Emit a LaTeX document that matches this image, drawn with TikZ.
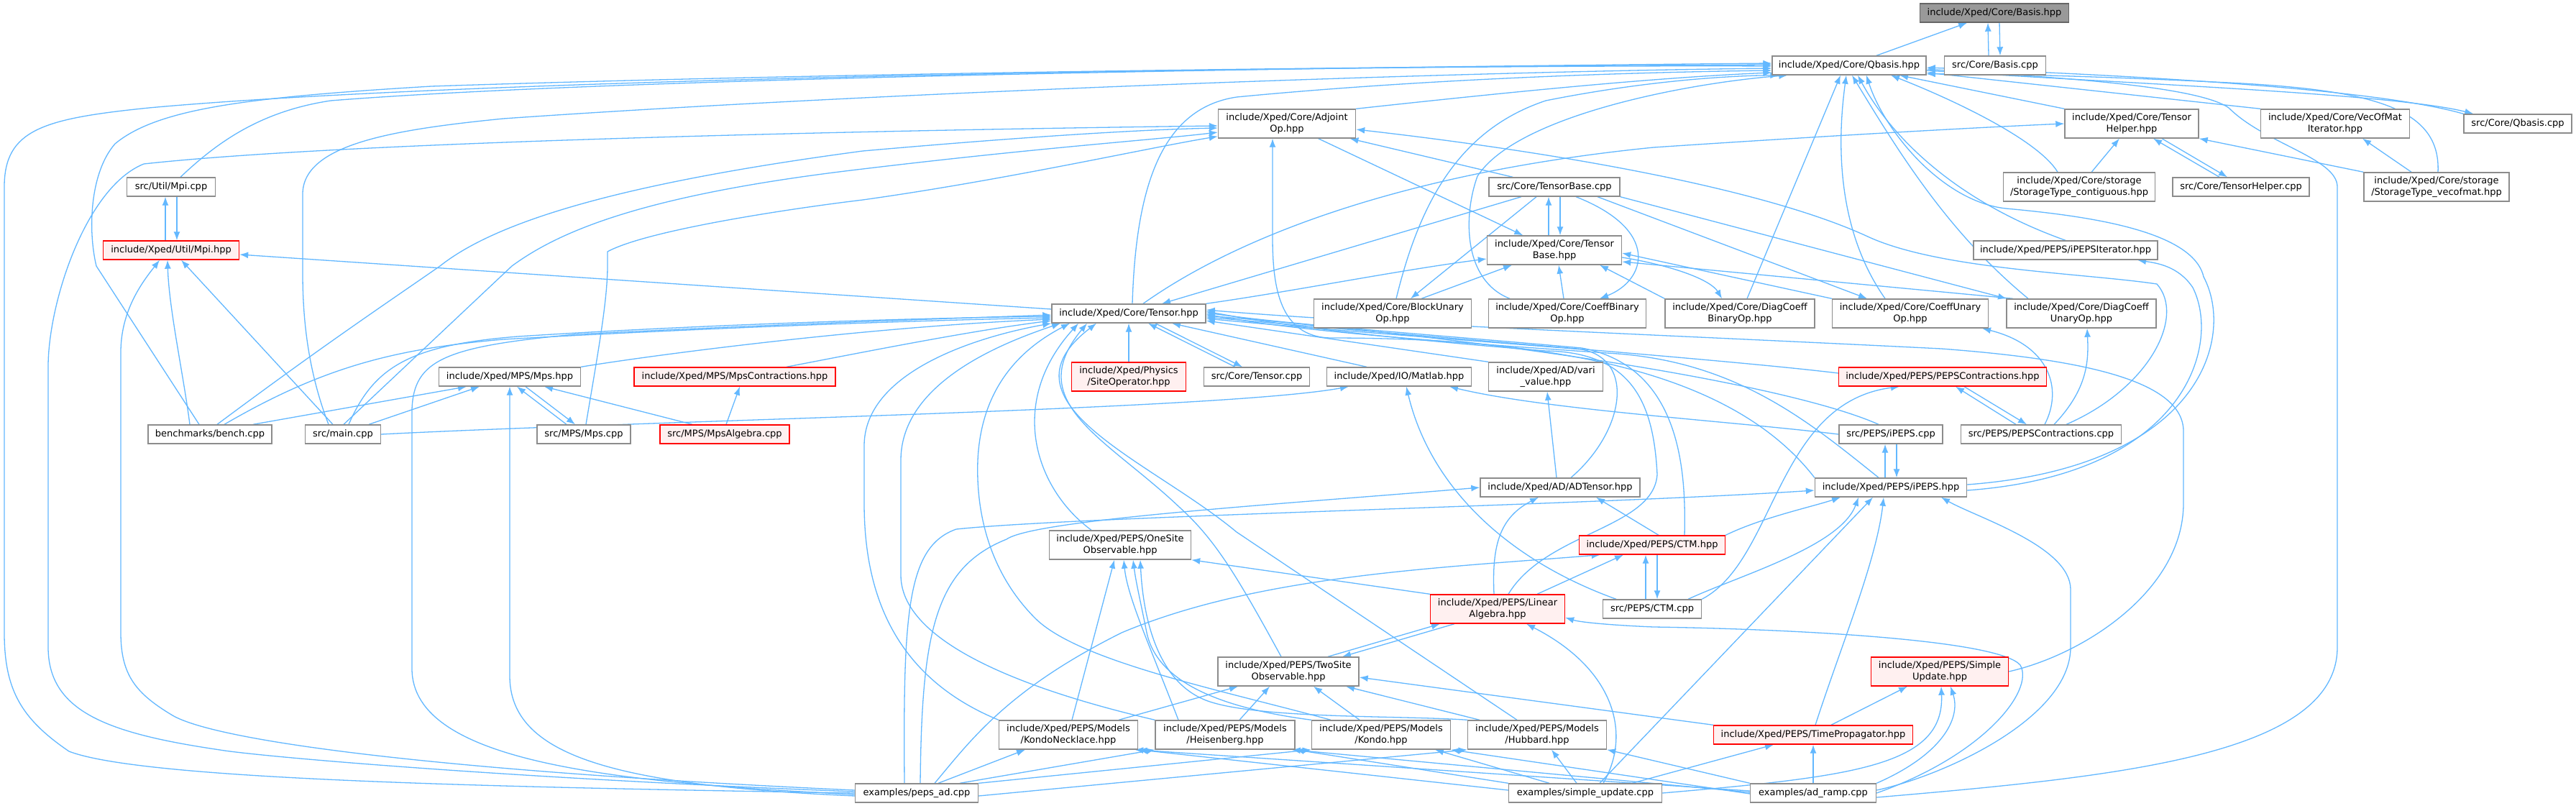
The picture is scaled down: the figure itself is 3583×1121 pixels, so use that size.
\documentclass[tikz,border=0pt]{standalone}
\usepackage{fontspec}
\setmainfont{DejaVu Sans}
\usetikzlibrary{arrows.meta,backgrounds}
\definecolor{eblue}{HTML}{63B8FF}
\definecolor{ndgray}{HTML}{8C8C8C}
\definecolor{rootfill}{HTML}{999999}
\definecolor{rootdraw}{HTML}{666666}
\definecolor{redfill}{HTML}{FFF0F0}
\begin{document}
\begin{tikzpicture}[x=1pt,y=-1pt,
  nd/.style={draw=ndgray, line width=1.4pt, fill=white, inner sep=0pt, align=center, font=\fontsize{13}{16}\selectfont},
  one/.style={minimum height=26pt},
  two/.style={minimum height=40pt},
  rd/.style={nd, draw=red, fill=redfill},
  root/.style={nd, draw=rootdraw, fill=rootfill},
  e/.style={draw=eblue, line width=1.3pt, -{Latex[length=12pt,width=9pt]}}]
\useasboundingbox (0,0) rectangle (3583,1121);
% nodes
\node[root,one,minimum width=207pt] (basis) at (2774,18) {include/Xped/Core/Basis.hpp};
\node[nd,one,minimum width=214pt] (qbasis) at (2572,91) {include/Xped/Core/Qbasis.hpp};
\node[nd,one,minimum width=141pt] (basiscpp) at (2775,91) {src/Core/Basis.cpp};
\node[nd,two,minimum width=191pt] (adj) at (1790,172) {include/Xped/Core/Adjoint\\Op.hpp};
\node[nd,two,minimum width=186pt] (thelp) at (2965,172) {include/Xped/Core/Tensor\\Helper.hpp};
\node[nd,two,minimum width=207pt] (vecofmat) at (3248,172) {include/Xped/Core/VecOfMat\\Iterator.hpp};
\node[nd,one,minimum width=150pt] (qbcpp) at (3502,172) {src/Core/Qbasis.cpp};
\node[nd,two,minimum width=211pt] (contig) at (2892,260) {include/Xped/Core/storage\\/StorageType\_contiguous.hpp};
\node[nd,one,minimum width=190pt] (thcpp) at (3117,260) {src/Core/TensorHelper.cpp};
\node[nd,two,minimum width=202pt] (vecmat) at (3389,260) {include/Xped/Core/storage\\/StorageType\_vecofmat.hpp};
\node[nd,one,minimum width=256pt] (ipit) at (2873,348) {include/Xped/PEPS/iPEPSIterator.hpp};
\node[nd,one,minimum width=123pt] (mpicpp) at (238,260) {src/Util/Mpi.cpp};
\node[rd,one,minimum width=189pt] (mpi) at (238,348) {include/Xped/Util/Mpi.hpp};
\node[nd,one,minimum width=182pt] (tbcpp) at (2162,260) {src/Core/TensorBase.cpp};
\node[nd,two,minimum width=187pt] (tb) at (2162,348) {include/Xped/Core/Tensor\\Base.hpp};
\node[nd,one,minimum width=214pt] (tensor) at (1570,436) {include/Xped/Core/Tensor.hpp};
\node[nd,two,minimum width=219pt] (blockun) at (1937,436) {include/Xped/Core/BlockUnary\\Op.hpp};
\node[nd,two,minimum width=219pt] (coeffbin) at (2180,436) {include/Xped/Core/CoeffBinary\\Op.hpp};
\node[nd,two,minimum width=208pt] (diagbin) at (2420,436) {include/Xped/Core/DiagCoeff\\BinaryOp.hpp};
\node[nd,two,minimum width=217pt] (coeffun) at (2657,436) {include/Xped/Core/CoeffUnary\\Op.hpp};
\node[nd,two,minimum width=208pt] (diagun) at (2895,436) {include/Xped/Core/DiagCoeff\\UnaryOp.hpp};
\node[rd,two,minimum width=159pt] (siteop) at (1570,524) {include/Xped/Physics\\/SiteOperator.hpp};
\node[nd,one,minimum width=147pt] (tcpp) at (1748,524) {src/Core/Tensor.cpp};
\node[nd,one,minimum width=201pt] (matlab) at (1946,524) {include/Xped/IO/Matlab.hpp};
\node[nd,two,minimum width=159pt] (vari) at (2150,524) {include/Xped/AD/vari\\\_value.hpp};
\node[rd,one,minimum width=289pt] (pepscon) at (2702,524) {include/Xped/PEPS/PEPSContractions.hpp};
\node[nd,one,minimum width=197pt] (mps) at (709,524) {include/Xped/MPS/Mps.hpp};
\node[rd,one,minimum width=280pt] (mpscon) at (1022,524) {include/Xped/MPS/MpsContractions.hpp};
\node[nd,one,minimum width=172pt] (bench) at (292,604) {benchmarks/bench.cpp};
\node[nd,one,minimum width=105pt] (main) at (477,604) {src/main.cpp};
\node[nd,one,minimum width=130pt] (mpscpp) at (812,604) {src/MPS/Mps.cpp};
\node[rd,one,minimum width=180pt] (mpsalg) at (1008,604) {src/MPS/MpsAlgebra.cpp};
\node[nd,one,minimum width=144pt] (ipepscpp) at (2630,604) {src/PEPS/iPEPS.cpp};
\node[nd,one,minimum width=223pt] (pepsconcpp) at (2839,604) {src/PEPS/PEPSContractions.cpp};
\node[nd,one,minimum width=222pt] (adt) at (2170,678) {include/Xped/AD/ADTensor.hpp};
\node[nd,one,minimum width=211pt] (ipeps) at (2630,678) {include/Xped/PEPS/iPEPS.hpp};
\node[nd,two,minimum width=197pt] (onesite) at (1558,758) {include/Xped/PEPS/OneSite\\Observable.hpp};
\node[rd,one,minimum width=203pt] (ctm) at (2298,758) {include/Xped/PEPS/CTM.hpp};
\node[rd,two,minimum width=187pt] (linalg) at (2083,847) {include/Xped/PEPS/Linear\\Algebra.hpp};
\node[nd,one,minimum width=137pt] (ctmcpp) at (2298,847) {src/PEPS/CTM.cpp};
\node[nd,two,minimum width=196pt] (twosite) at (1792,934) {include/Xped/PEPS/TwoSite\\Observable.hpp};
\node[rd,two,minimum width=191pt] (simple) at (2698,934) {include/Xped/PEPS/Simple\\Update.hpp};
\node[nd,two,minimum width=193pt] (kn) at (1486,1022) {include/Xped/PEPS/Models\\/KondoNecklace.hpp};
\node[nd,two,minimum width=194pt] (heis) at (1704,1022) {include/Xped/PEPS/Models\\/Heisenberg.hpp};
\node[nd,two,minimum width=193pt] (kondo) at (1921,1022) {include/Xped/PEPS/Models\\/Kondo.hpp};
\node[nd,two,minimum width=193pt] (hub) at (2138,1022) {include/Xped/PEPS/Models\\/Hubbard.hpp};
\node[rd,one,minimum width=277pt] (timeprop) at (2522,1022) {include/Xped/PEPS/TimePropagator.hpp};
\node[nd,one,minimum width=171pt] (pepsad) at (1275,1103) {examples/peps\_ad.cpp};
\node[nd,one,minimum width=213pt] (simpleupd) at (2205,1103) {examples/simple\_update.cpp};
\node[nd,one,minimum width=175pt] (adramp) at (2522,1103) {examples/ad\_ramp.cpp};

\begin{scope}[on background layer]
\fill[white] (0,0) rectangle (3583,1121);
% Basis
\draw[e] (qbasis) -- (basis);
\draw[e] ([xshift=-9pt]basiscpp.north) -- ([xshift=-9pt]basis.south);
\draw[e] ([xshift=7pt]basis.south) -- ([xshift=7pt]basiscpp.north);
% Qbasis.cpp
\draw[e] (qbcpp.north west) .. controls (3300,122) and (2950,104) .. ([yshift=-3pt]qbasis.east);
\draw[e] ([yshift=-7pt]qbasis.east) .. controls (2950,116) and (3330,130) .. ([xshift=14pt]qbcpp.north west);
% into Qbasis
\draw[e] (vecofmat.north west) -- ([yshift=-10pt]qbasis.east);
\draw[e] ([xshift=2pt]vecmat.north) .. controls (3395,150) and (3300,125) .. (3100,115) .. controls (2900,105) and (2750,102) .. ([yshift=-12pt]qbasis.east);
\draw[e] (thelp.north west) -- ([xshift=70pt]qbasis.south);
\draw[e] ([xshift=-30pt]contig.north) .. controls (2835,195) and (2720,140) .. ([xshift=58pt]qbasis.south);
\draw[e] (ipit.north) .. controls (2720,280) and (2630,190) .. ([xshift=12pt]qbasis.south);
\draw[e] ([xshift=13pt]mpicpp.north) .. controls (300,200) and (360,155) .. (460,140) .. controls (900,105) and (2000,92) .. ([yshift=3pt]qbasis.west);
\draw[e] ([xshift=-15pt]bench.north) -- (134,370) .. controls (122,320) and (125,240) .. (160,200) .. controls (220,150) and (350,135) .. (600,120) .. controls (1200,100) and (2000,92) .. ([yshift=1pt]qbasis.west);
\draw[e] (pepsad.west) .. controls (700,1095) and (200,1085) .. (96,1045) .. controls (30,1000) and (6,960) .. (6,880) -- (6,260) .. controls (6,180) and (60,165) .. (207,150) .. controls (700,105) and (2000,90) .. ([yshift=-1pt]qbasis.west);
\draw[e] ([xshift=-20pt]main.north) .. controls (430,520) and (421,450) .. (421,380) -- (421,270) .. controls (421,200) and (550,180) .. (700,165) .. controls (1200,130) and (2000,100) .. ([yshift=-4pt]qbasis.west);
\draw[e] ([xshift=5pt]tensor.north) .. controls (1580,250) and (1620,150) .. (1720,135) .. controls (2000,108) and (2300,100) .. ([yshift=-7pt]qbasis.west);
\draw[e] (adj.north east) .. controls (2100,128) and (2300,108) .. ([yshift=-10pt]qbasis.west);
\draw[e] ([xshift=5pt]blockun.north) .. controls (1975,280) and (2030,180) .. (2150,140) .. controls (2300,110) and (2420,105) .. ([xshift=10pt]qbasis.south west);
\draw[e] ([xshift=-80pt]coeffbin.north) .. controls (2035,390) and (2035,300) .. (2055,245) .. controls (2110,160) and (2350,115) .. ([xshift=22pt]qbasis.south west);
\draw[e] ([xshift=10pt]diagbin.north) -- ([xshift=-12pt]qbasis.south);
\draw[e] ([xshift=-35pt]coeffun.north) .. controls (2555,320) and (2555,200) .. ([xshift=-4pt]qbasis.south);
\draw[e] ([xshift=-74pt]diagun.north) .. controls (2709,323) and (2640,210) .. ([xshift=4pt]qbasis.south);
\draw[e] ([yshift=4pt]ipeps.east) .. controls (3060,650) and (3110,470) .. (3065,385) .. controls (3050,320) and (2900,300) .. (2790,290) .. controls (2700,280) and (2620,180) .. ([xshift=24pt]qbasis.south);
\draw[e] ([yshift=-6pt]adramp.east) .. controls (2950,1080) and (3251,1050) .. (3251,900) -- (3251,260) .. controls (3251,220) and (3150,200) .. (3100,150) .. controls (3050,115) and (2800,105) .. ([yshift=-5pt]qbasis.east);
% AdjointOp
\draw[e] ([yshift=2pt]pepsad.west) .. controls (700,1082) and (360,1052) .. (306,1043) .. controls (150,1020) and (67,990) .. (67,900) -- (67,510) .. controls (67,420) and (120,260) .. (200,228) .. controls (500,195) and (1300,180) .. ([yshift=-3pt]adj.west);
\draw[e] ([xshift=10pt]bench.north) .. controls (450,480) and (540,420) .. (612,370) .. controls (700,300) and (900,250) .. (1200,210) .. controls (1450,188) and (1600,180) .. ([yshift=-6pt]adj.west);
\draw[e] ([xshift=1pt]main.north) -- (712,370) .. controls (780,320) and (900,270) .. (1200,235) .. controls (1450,205) and (1600,195) .. ([yshift=-12pt]adj.west);
\draw[e] ([xshift=3pt]mpscpp.north) .. controls (830,500) and (845,420) .. (845,370) -- (845,350) .. controls (900,320) and (1100,290) .. (1200,278) .. controls (1400,250) and (1600,205) .. ([yshift=3pt]adj.south west);
\draw[e] (tbcpp) -- (adj);
\draw[e] (adj) -- (tb);
\draw[e] ([xshift=35pt]pepsconcpp.north) .. controls (2990,540) and (3040,440) .. (3000,395) .. controls (2900,380) and (2700,375) .. (2600,330) .. controls (2450,260) and (2150,210) .. ([yshift=-8pt]adj.east);
\draw[e] (ipeps.north west) .. controls (2420,530) and (2200,470) .. (1850,470) .. controls (1780,468) and (1770,400) .. (1770,330) -- ([xshift=-20pt]adj.south);
% Mpi
\draw[e] ([xshift=-8pt]mpi.north) -- ([xshift=-8pt]mpicpp.south);
\draw[e] ([xshift=8pt]mpicpp.south) -- ([xshift=8pt]mpi.north);
\draw[e] ([yshift=6pt]tensor.west) -- ([yshift=-6pt]mpi.east);
\draw[e] ([yshift=4pt]pepsad.west) .. controls (600,1072) and (300,1030) .. (240,995) .. controls (190,965) and (168,940) .. (168,880) -- (168,490) .. controls (168,430) and (200,390) .. ([xshift=-16pt]mpi.south);
\draw[e] ([xshift=-28pt]bench.north) .. controls (255,520) and (235,430) .. ([xshift=-5pt]mpi.south);
\draw[e] ([xshift=-14pt]main.north) -- ([xshift=14pt]mpi.south);
% TensorBase
\draw[e] ([xshift=-8pt]tb.north) -- ([xshift=-8pt]tbcpp.south);
\draw[e] ([xshift=8pt]tbcpp.south) -- ([xshift=8pt]tb.north);
\draw[e] (tbcpp) -- (tensor);
\draw[e] (tensor.north east) .. controls (1800,405) and (1950,375) .. ([yshift=-12pt]tb.west);
\draw[e] ([xshift=-25pt]tbcpp.south) -- ([xshift=25pt]blockun.north);
\draw[e] ([xshift=30pt]tbcpp.south) .. controls (2310,320) and (2290,390) .. ([xshift=45pt]coeffbin.north);
\draw[e] ([xshift=60pt]tbcpp.south) -- ([xshift=-60pt]coeffun.north);
\draw[e] (tbcpp.south east) -- ([xshift=-104pt]diagun.north);
\draw[e] ([yshift=-10pt]tb.east) .. controls (2330,370) and (2380,390) .. ([xshift=-25pt]diagbin.north);
\draw[e] ([xshift=40pt]blockun.north) -- ([xshift=-59pt]tb.south);
\draw[e] ([xshift=-5pt]coeffbin.north) -- ([xshift=6pt]tb.south);
\draw[e] (diagbin.north west) -- ([xshift=63pt]tb.south);
\draw[e] (coeffun.north west) -- ([yshift=-4pt]tb.east);
\draw[e] ([xshift=-95pt]diagun.north) -- ([yshift=-16pt]tb.east);
% TensorHelper etc
\draw[e] (contig) -- (thelp);
\draw[e] (vecmat.north west) -- (thelp.south east);
\draw[e] ([xshift=-35pt]vecmat.north) -- ([xshift=38pt]vecofmat.south);
\draw[e] ([xshift=-30pt]thcpp.north) -- ([xshift=30pt]thelp.south);
\draw[e] ([xshift=42pt]thelp.south) -- ([xshift=-19pt]thcpp.north);
\draw[e] ([xshift=20pt]tensor.north) .. controls (1720,330) and (1950,240) .. (2300,205) .. controls (2600,185) and (2800,175) .. (thelp.west);
% Tensor neighbours
\draw[e] ([xshift=-30pt]tcpp.north) -- ([xshift=27pt]tensor.south);
\draw[e] ([xshift=37pt]tensor.south) -- ([xshift=-20pt]tcpp.north);
\draw[e] (siteop) -- (tensor);
\draw[e] ([xshift=-45pt]matlab.north) -- ([xshift=60pt]tensor.south);
\draw[e] (vari.north west) -- ([yshift=-10pt]tensor.east);
\draw[e] ([xshift=-5pt]adt.north) -- ([xshift=2pt]vari.south);
\draw[e] ([xshift=15pt]adt.north) .. controls (2260,600) and (2275,500) .. (2200,486) .. controls (2000,470) and (1800,455) .. ([yshift=-7pt]tensor.east);
\draw[e] ([yshift=5pt]pepscon.west) .. controls (2400,500) and (2000,470) .. ([yshift=-5pt]tensor.east);
\draw[e] ([xshift=-17pt]ipepscpp.north) .. controls (2500,540) and (2150,478) .. ([yshift=-3pt]tensor.east);
\draw[e] ([xshift=-17pt]ipeps.north) .. controls (2520,590) and (2420,505) .. (2250,492) .. controls (2000,475) and (1800,460) .. ([yshift=-1pt]tensor.east);
\draw[e] ([xshift=45pt]ctm.north) .. controls (2345,660) and (2340,510) .. (2200,484) .. controls (2000,466) and (1800,452) .. ([yshift=1pt]tensor.east);
\draw[e] ([xshift=15pt]linalg.north) .. controls (2150,740) and (2300,735) .. (2305,660) .. controls (2300,560) and (2270,490) .. (2150,488) .. controls (1950,472) and (1800,456) .. ([yshift=3pt]tensor.east);
\draw[e] (simple.east) .. controls (2900,910) and (3037,820) .. (3037,700) -- (3037,600) .. controls (3037,530) and (2900,500) .. (2700,485) .. controls (2300,465) and (1900,450) .. ([yshift=5pt]tensor.east);
% Matlab
\draw[e] (main.east) .. controls (900,585) and (1700,570) .. ([xshift=-70pt]matlab.south);
\draw[e] (ipepscpp.west) .. controls (2400,585) and (2150,570) .. ([xshift=70pt]matlab.south);
\draw[e] ([xshift=-50pt]ctmcpp.north) .. controls (2100,780) and (1990,680) .. ([xshift=10pt]matlab.south);
% Mps
\draw[e] ([yshift=-2pt]pepsad.west) .. controls (850,1088) and (573,1060) .. (573,930) -- (573,570) .. controls (575,500) and (620,482) .. (800,465) .. controls (1100,450) and (1350,442) .. ([yshift=-2pt]tensor.west);
\draw[e] ([yshift=-4pt]pepsad.west) .. controls (850,1092) and (709,1050) .. (709,940) -- (mps.south);
\draw[e] ([xshift=20pt]bench.north) .. controls (450,510) and (550,485) .. (700,472) .. controls (1000,455) and (1300,445) .. ([yshift=-6pt]tensor.west);
\draw[e] ([xshift=8pt]main.north) .. controls (520,510) and (570,480) .. (720,468) .. controls (1000,450) and (1300,442) .. ([yshift=-4pt]tensor.west);
\draw[e] ([xshift=60pt]bench.north) -- ([xshift=-60pt]mps.south);
\draw[e] ([xshift=36pt]main.north) -- ([xshift=-42pt]mps.south);
\draw[e] ([xshift=-24pt]mpscpp.north) -- ([xshift=10pt]mps.south);
\draw[e] ([xshift=22pt]mps.south) -- ([xshift=-12pt]mpscpp.north);
\draw[e] ([xshift=-45pt]mpsalg.north) -- ([xshift=48pt]mps.south);
\draw[e] ([xshift=2pt]mpsalg.north) -- ([xshift=7pt]mpscon.south);
\draw[e] (mps.north east) .. controls (900,495) and (1200,455) .. ([yshift=-8pt]tensor.west);
\draw[e] ([xshift=72pt]mpscon.north) .. controls (1200,490) and (1350,460) .. ([yshift=-10pt]tensor.west);
% iPEPS
\draw[e] ([xshift=-8pt]ipeps.north) -- ([xshift=-8pt]ipepscpp.south);
\draw[e] ([xshift=8pt]ipepscpp.south) -- ([xshift=8pt]ipeps.north);
\draw[e] ([yshift=-4pt]ipeps.east) .. controls (3040,660) and (3090,480) .. (3050,400) .. controls (3030,370) and (3000,366) .. ([xshift=100pt]ipit.south);
\draw[e] ([xshift=-17pt]pepsad.north) .. controls (1256,850) and (1262,760) .. (1330,736) .. controls (1500,718) and (2200,703) .. ([yshift=-4pt]ipeps.west);
\draw[e] (ctm.north east) .. controls (2450,720) and (2520,705) .. ([xshift=-70pt]ipeps.south);
\draw[e] ([xshift=50pt]ctmcpp.north) .. controls (2420,800) and (2560,760) .. ([xshift=-45pt]ipeps.south);
\draw[e] ([xshift=20pt]simpleupd.north) -- ([xshift=-25pt]ipeps.south);
\draw[e] ([xshift=3pt]timeprop.north) .. controls (2560,900) and (2610,780) .. ([xshift=-10pt]ipeps.south);
\draw[e] ([yshift=4pt]adramp.east) .. controls (2700,1080) and (2880,1000) .. (2880,900) -- (2880,820) .. controls (2880,760) and (2750,720) .. ([xshift=70pt]ipeps.south);
% PEPSContractions
\draw[e] ([xshift=-35pt]pepsconcpp.north) -- ([xshift=18pt]pepscon.south);
\draw[e] ([xshift=30pt]pepscon.south) -- ([xshift=-20pt]pepsconcpp.north);
\draw[e] ([xshift=5pt]pepsconcpp.north) .. controls (2870,540) and (2850,480) .. ([xshift=100pt]coeffun.south);
\draw[e] ([xshift=18pt]pepsconcpp.north) .. controls (2905,540) and (2905,500) .. ([xshift=8pt]diagun.south);
\draw[e] (ctmcpp.north east) .. controls (2470,780) and (2470,560) .. ([xshift=-60pt]pepscon.south);
% CTM
\draw[e] ([xshift=-9pt]ctmcpp.north) -- ([xshift=-9pt]ctm.south);
\draw[e] ([xshift=7pt]ctm.south) -- ([xshift=7pt]ctmcpp.north);
\draw[e] ([xshift=9pt]ctm.north) -- ([xshift=50pt]adt.south);
\draw[e] ([xshift=55pt]linalg.north) -- ([xshift=-40pt]ctm.south);
\draw[e] ([xshift=25pt]pepsad.north) .. controls (1350,1030) and (1400,960) .. (1560,880) .. controls (1750,800) and (2000,790) .. ([xshift=30pt]ctm.south west);
% ADTensor
\draw[e] ([xshift=5pt]pepsad.north) .. controls (1282,880) and (1300,790) .. (1400,750) .. controls (1440,722) and (1800,700) .. (adt.west);
\draw[e] ([xshift=-5pt]linalg.north) .. controls (2075,760) and (2085,720) .. ([xshift=-30pt]adt.south);
% LinearAlgebra
\draw[e] (linalg.north west) -- (onesite.south east);
\draw[e] ([xshift=55pt]twosite.north) -- ([xshift=-80pt]linalg.south);
\draw[e] ([xshift=-60pt]linalg.south) -- ([xshift=75pt]twosite.north);
\draw[e] (adramp.east) .. controls (2760,1050) and (2830,960) .. (2810,925) .. controls (2780,890) and (2500,875) .. (2300,872) .. controls (2250,870) and (2200,866) .. ([yshift=-12pt]linalg.east);
\draw[e] ([xshift=25pt]simpleupd.north) .. controls (2270,1020) and (2245,930) .. ([xshift=40pt]linalg.south);
% Observables
\draw[e] ([xshift=5pt]kn.north) -- ([xshift=-8pt]onesite.south);
\draw[e] ([xshift=-65pt]heis.north) .. controls (1600,900) and (1568,830) .. ([xshift=5pt]onesite.south);
\draw[e] (kondo.north west) .. controls (1700,985) and (1610,950) .. (1595,880) .. controls (1585,830) and (1580,810) .. ([xshift=18pt]onesite.south);
\draw[e] (hub.north west) .. controls (1950,995) and (1750,1000) .. (1680,975) .. controls (1610,950) and (1590,860) .. ([xshift=28pt]onesite.south);
\draw[e] ([xshift=70pt]kn.north) -- ([xshift=-70pt]twosite.south);
\draw[e] ([xshift=20pt]heis.north) -- ([xshift=-26pt]twosite.south);
\draw[e] ([xshift=-30pt]kondo.north) -- ([xshift=35pt]twosite.south);
\draw[e] ([xshift=-80pt]hub.north) -- ([xshift=80pt]twosite.south);
\draw[e] (timeprop.north west) -- ([yshift=-8pt]twosite.east);
% models -> Tensor
\draw[e] (kn.north west) .. controls (1240,940) and (1202,820) .. (1202,700) -- (1202,620) .. controls (1202,520) and (1350,470) .. (tensor.south west);
\draw[e] (heis.north west) .. controls (1450,965) and (1253,900) .. (1253,800) -- (1253,640) .. controls (1253,530) and (1400,475) .. ([xshift=-95pt]tensor.south);
\draw[e] ([xshift=-70pt]kondo.north) .. controls (1700,960) and (1500,920) .. (1440,860) .. controls (1380,800) and (1357,720) .. (1360,640) .. controls (1365,530) and (1430,480) .. ([xshift=-82pt]tensor.south);
\draw[e] ([xshift=-40pt]onesite.north) .. controls (1440,680) and (1400,560) .. ([xshift=-70pt]tensor.south);
\draw[e] ([xshift=-10pt]twosite.north) .. controls (1720,800) and (1690,750) .. (1640,705) .. controls (1540,610) and (1420,560) .. ([xshift=-58pt]tensor.south);
\draw[e] ([xshift=-28pt]hub.north) -- (1720,740) .. controls (1600,640) and (1380,560) .. ([xshift=-45pt]tensor.south);
% bottom examples -> models
\draw[e] ([xshift=30pt]pepsad.north) -- ([xshift=-60pt]kn.south);
\draw[e] ([xshift=60pt]pepsad.north) -- (heis.south west);
\draw[e] (pepsad.north east) -- (kondo.south west);
\draw[e] ([yshift=-4pt]pepsad.east) -- (hub.south west);
\draw[e] ([yshift=4pt]simpleupd.west) -- (kn.south east);
\draw[e] (simpleupd.north west) -- (heis.south east);
\draw[e] ([xshift=-50pt]simpleupd.north) -- ([xshift=75pt]kondo.south);
\draw[e] ([xshift=-12pt]simpleupd.north) -- ([xshift=20pt]hub.south);
\draw[e] ([yshift=3pt]adramp.west) -- ([xshift=-5pt]kn.south east);
\draw[e] ([yshift=1pt]adramp.west) -- ([xshift=-5pt]heis.south east);
\draw[e] ([yshift=-1pt]adramp.west) -- (kondo.south east);
\draw[e] (adramp.north west) -- (hub.south east);
% SimpleUpdate / TimePropagator
\draw[e] (simpleupd.east) .. controls (2580,1080) and (2705,1065) .. ([xshift=2pt]simple.south);
\draw[e] (adramp.north east) .. controls (2700,1050) and (2728,1000) .. ([xshift=15pt]simple.south);
\draw[e] ([xshift=25pt]timeprop.north) -- ([xshift=-45pt]simple.south);
\draw[e] (adramp) -- (timeprop);
\draw[e] ([xshift=65pt]simpleupd.north) -- ([xshift=-55pt]timeprop.south);
\end{scope}
\end{tikzpicture}
\end{document}
